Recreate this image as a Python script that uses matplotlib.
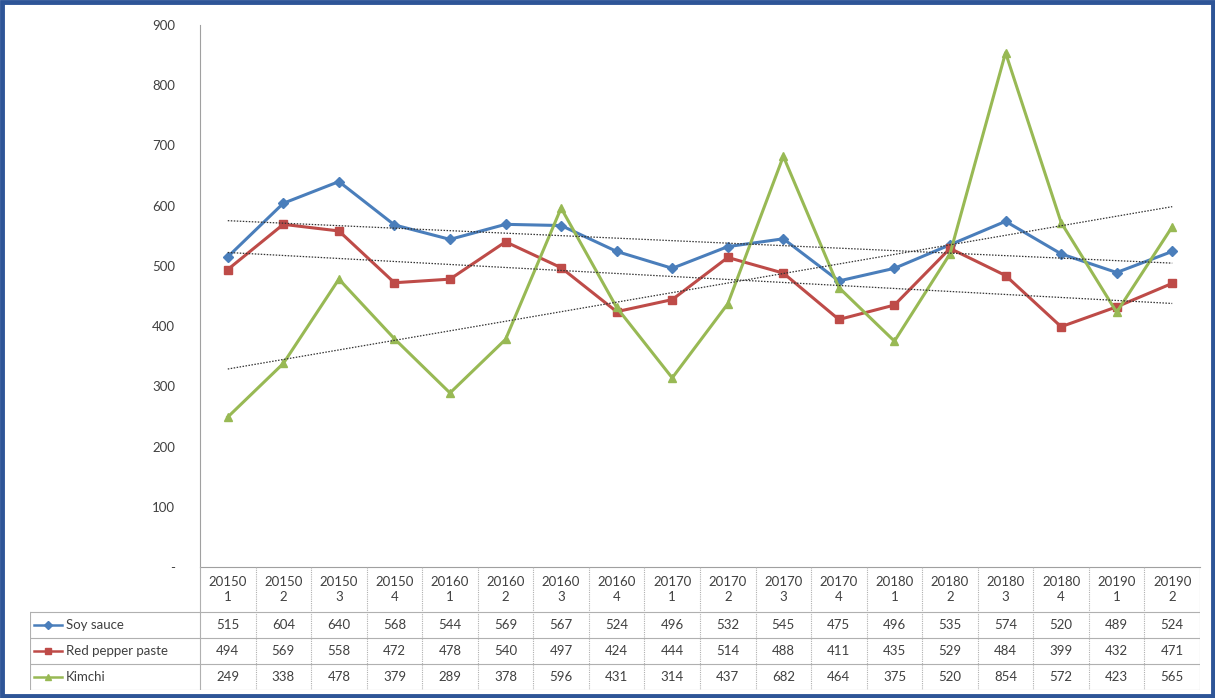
import numpy as np
import matplotlib
matplotlib.use("Agg")
import matplotlib.pyplot as plt
from matplotlib.patches import Rectangle
from matplotlib.lines import Line2D

plt.rcParams['font.family'] = ['Lato', 'DejaVu Sans']

periods = ['201501', '201502', '201503', '201504', '201601', '201602', '201603', '201604',
           '201701', '201702', '201703', '201704', '201801', '201802', '201803', '201804',
           '201901', '201902']
soy = [515, 604, 640, 568, 544, 569, 567, 524, 496, 532, 545, 475, 496, 535, 574, 520, 489, 524]
pepper = [494, 569, 558, 472, 478, 540, 497, 424, 444, 514, 488, 411, 435, 529, 484, 399, 432, 471]
kimchi = [249, 338, 478, 379, 289, 378, 596, 431, 314, 437, 682, 464, 375, 520, 854, 572, 423, 565]
yticks = [0, 100, 200, 300, 400, 500, 600, 700, 800, 900]

series = [
    ('Soy sauce', soy, '#4a7ebb', 'D', 5),
    ('Red pepper paste', pepper, '#be4b48', 's', 6),
    ('Kimchi', kimchi, '#98b954', '^', 6),
]

W, H = 1215, 698
fig = plt.figure(figsize=(W / 100, H / 100), dpi=100)
fig.patch.set_facecolor('white')

# outer border
fig.add_artist(Rectangle((2 / W, 2 / H), 1 - 4 / W, 1 - 4 / H, transform=fig.transFigure,
                         fill=False, edgecolor='#2e5597', linewidth=3.5))

# main plot area (pixels)
left, right, top, bottom = 200, 1200, 25, 567
ax = fig.add_axes([left / W, 1 - bottom / H, (right - left) / W, (bottom - top) / H])
n = len(periods)
x = np.arange(n)
ax.set_xlim(-0.5, n - 0.5)
ax.set_ylim(0, 900)
for s in ['top', 'right']:
    ax.spines[s].set_visible(False)
ax.spines['left'].set_color('#a0a0a0')
ax.spines['bottom'].set_color('#a0a0a0')
ax.set_xticks([])
ax.set_yticks(yticks)
ax.set_yticklabels(['-' if v == 0 else str(v) for v in yticks], color='#404040', fontsize=9.5)
ax.tick_params(axis='y', length=0, pad=18)

for name, vals, col, mk, ms in series:
    ax.plot(x, vals, color=col, linewidth=2.2, marker=mk, markersize=ms, zorder=3)
    k, b = np.polyfit(x, vals, 1)
    ax.plot(x, k * x + b, color='#333333', linewidth=0.9, linestyle=(0, (1.2, 1.2)), zorder=4)

# data table below the chart
tleft, tbottom = 30, 690
w = (right - left) / n
tx0 = -0.5 - (left - tleft) / w
tax = fig.add_axes([tleft / W, 1 - tbottom / H, (right - tleft) / W, (tbottom - bottom) / H])
tax.set_xlim(tx0, n - 0.5)
tax.set_ylim(tbottom, bottom)
tax.axis('off')

hdr_top, hdr_bot = bottom, 612
row_h = (tbottom - hdr_bot) / 3
grid_col = '#b0b0b0'

# vertical lines
for i in range(n + 1):
    tax.plot([i - 0.5, i - 0.5], [hdr_top, tbottom], color=grid_col, linewidth=0.8,
             linestyle='-' if i in (0, n) else (0, (1, 1)))
tax.plot([tx0, tx0], [hdr_bot, tbottom], color=grid_col, linewidth=0.8)
# horizontal lines
for j in range(4):
    yy = hdr_bot + j * row_h
    tax.plot([tx0, n - 0.5], [yy, yy], color=grid_col, linewidth=0.8)

for i, p in enumerate(periods):
    tax.text(i, (hdr_top + hdr_bot) / 2, p[:5] + '\n' + p[5:], ha='center', va='center',
             fontsize=9.5, color='#404040', linespacing=1.3)

for j, (name, vals, col, mk, ms) in enumerate(series):
    yc = hdr_bot + (j + 0.5) * row_h
    lx = tx0 + 0.08
    tax.add_line(Line2D([lx, lx + 0.5], [yc, yc], color=col, linewidth=1.8))
    tax.plot([lx + 0.25], [yc], marker=mk, color=col, markersize=ms - 1)
    tax.text(lx + 0.56, yc, name, ha='left', va='center', fontsize=9.5, color='#404040')
    for i, v in enumerate(vals):
        tax.text(i, yc, str(v), ha='center', va='center', fontsize=9.5, color='#404040')

fig.savefig('out.png', dpi=100)
